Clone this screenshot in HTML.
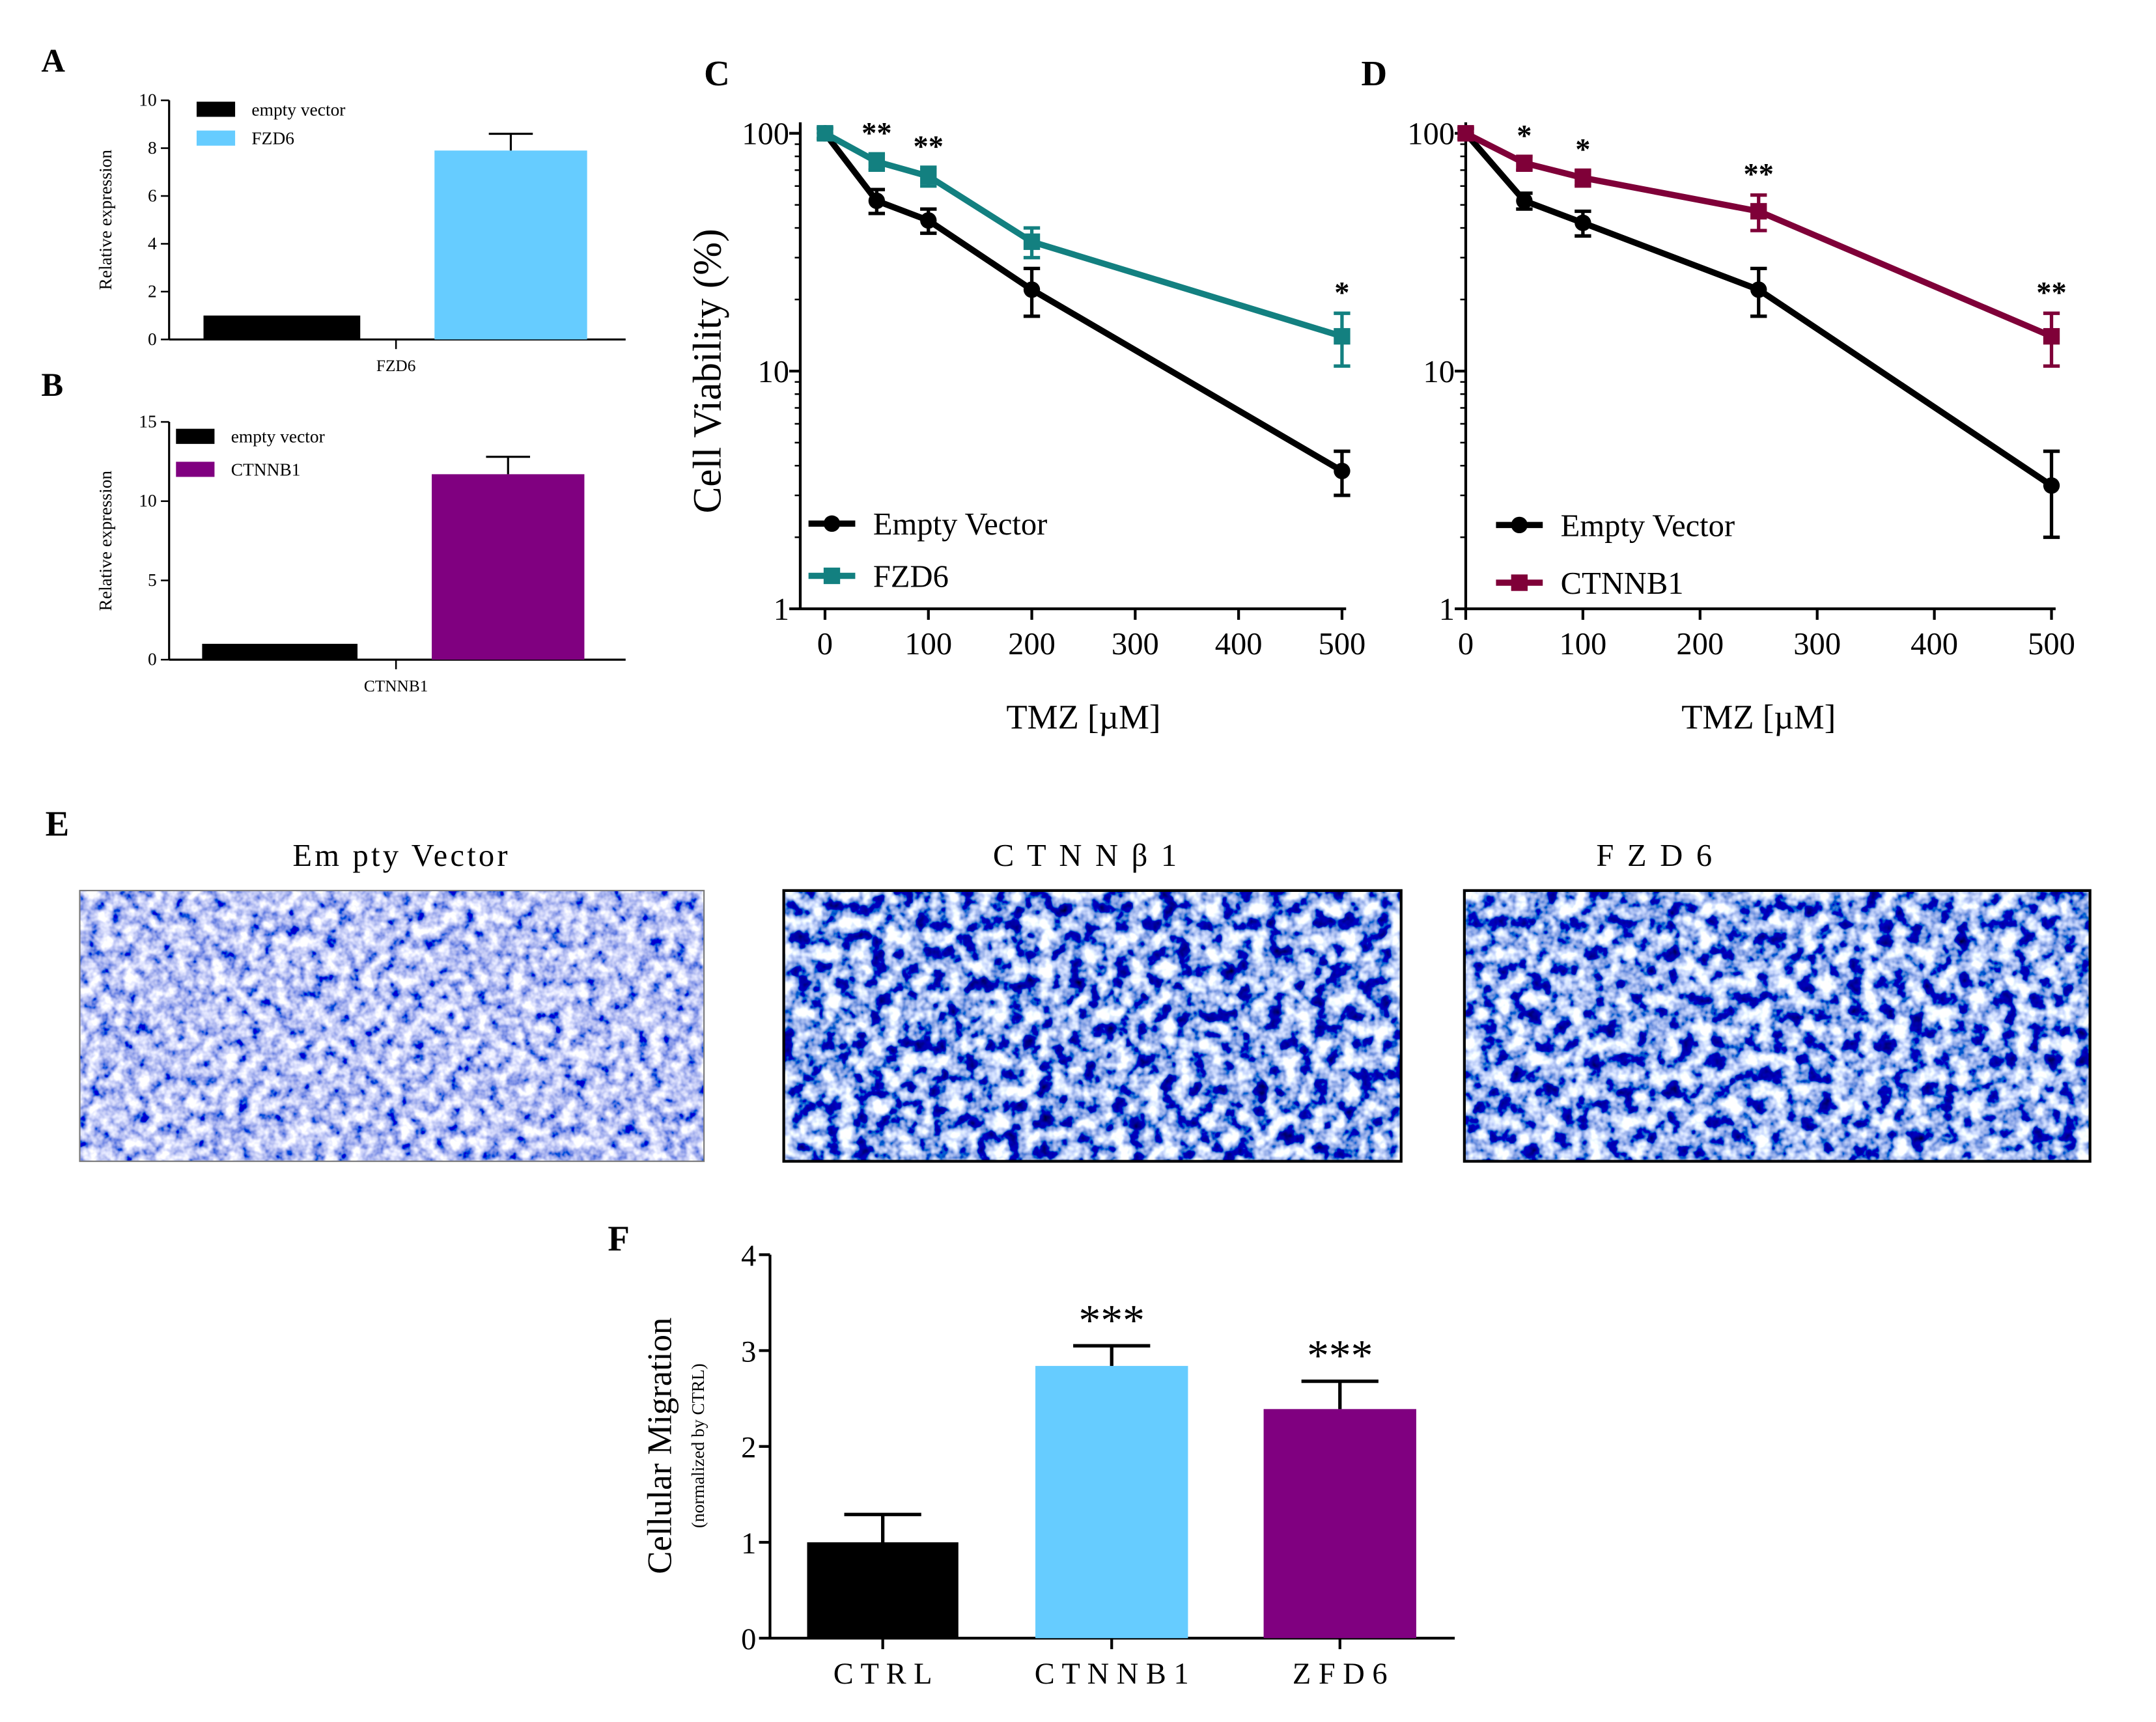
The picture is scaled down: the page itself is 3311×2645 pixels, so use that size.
<!DOCTYPE html>
<html><head><meta charset="utf-8"><style>
html,body{margin:0;padding:0;background:#fff;}
svg{display:block;font-family:"Liberation Serif",serif;}
</style></head><body>
<svg id="fig" width="3311" height="2645" viewBox="0 0 1568 1253" preserveAspectRatio="none" xmlns="http://www.w3.org/2000/svg">
<defs>
<filter id="cellsA" x="0" y="0" width="100%" height="100%">
<feTurbulence type="fractalNoise" baseFrequency="0.11" numOctaves="3" seed="3"/>
<feColorMatrix type="matrix" values="0 0 0 -2.2 1.6  0 0 0 -2.0 1.55  0 0 0 -0.8 1.3  0 0 0 0 1"/>
</filter>
<filter id="cellsB" x="0" y="0" width="100%" height="100%">
<feTurbulence type="fractalNoise" baseFrequency="0.09" numOctaves="3" seed="7"/>
<feColorMatrix type="matrix" values="0 0 0 -3.2 1.88  0 0 0 -3.0 1.9  0 0 0 -1.8 1.7  0 0 0 0 1"/>
</filter>
<filter id="cellsC" x="0" y="0" width="100%" height="100%">
<feTurbulence type="fractalNoise" baseFrequency="0.09" numOctaves="3" seed="11"/>
<feColorMatrix type="matrix" values="0 0 0 -3.2 1.9  0 0 0 -3.0 1.92  0 0 0 -1.8 1.72  0 0 0 0 1"/>
</filter>
</defs>
<g id="root"></g>
</svg>
<script>
// Panel A data
const aCats=["empty vector","FZD6"];
const aVals=[1,7.9];
const aErr=[0,0.7];
const aTicks=[0,2,4,6,8,10];
// Panel B data
const bCats=["empty vector","CTNNB1"];
const bVals=[1,11.7];
const bErr=[0,1.1];
const bTicks=[0,5,10,15];
// Panel C data
const cXTicks=[0,100,200,300,400,500];
const cYTicks=[1,10,100];
const cEvX=[0,50,100,200,500];
const cEvY=[100,52,43,22,3.8];
const cEvE=[5,6,5,5,0.8];
const cFzX=[0,50,100,200,500];
const cFzY=[100,76,66,35,14];
const cFzE=[5,6,6,5,3.5];
const cStars=["","**","**","","*"];
// Panel D data
const dEvX=[0,50,100,250,500];
const dEvY=[100,52,42,22,3.3];
const dEvE=[5,4,5,5,1.3];
const dCtX=[0,50,100,250,500];
const dCtY=[100,75,65,47,14];
const dCtE=[5,5,5,8,3.5];
const dStars=["","*","*","**","**"];
// Panel F data
const fCats=["C T R L","C T N N B 1","Z F D 6"];
const fVals=[1,2.84,2.39];
const fErr=[0.29,0.21,0.29];
const fTicks=[0,1,2,3,4];
const fStars=["","***","***"];

const NS="http://www.w3.org/2000/svg";
const root=document.getElementById('root');
function el(tag,attrs,parent,text){const e=document.createElementNS(NS,tag);for(const k in attrs)e.setAttribute(k,attrs[k]);if(text!==undefined)e.textContent=text;(parent||root).appendChild(e);return e;}
function line(x1,y1,x2,y2,w,c,p){return el('line',{x1,y1,x2,y2,stroke:c||'#000','stroke-width':w||1.5},p);}

function barPanel(opt){
  const g=el('g',{});
  
  
  const y=v=>opt.y0-(v-opt.min)/(opt.max-opt.min)*(opt.y0-opt.y1);
  line(opt.ax,opt.y1,opt.ax,opt.y0,1.5,'#000',g);
  line(opt.ax,opt.y0,opt.xe,opt.y0,1.5,'#000',g);
  opt.ticks.forEach(t=>{line(opt.ax-6,y(t),opt.ax,y(t),1.2,'#000',g);
    const tx=el('text',{x:opt.ax-9,y:y(t)+4,'font-size':opt.fs,'text-anchor':'end',fill:'#000'},g,t);
    });
  line(opt.midTick,opt.y0,opt.midTick,opt.y0+7,1.2,'#000',g);
  opt.vals.forEach((v,i)=>{
    const [x0,x1]=opt.barX[i];
    const r=el('rect',{x:x0,y:y(v),width:x1-x0,height:opt.y0-y(v),fill:opt.colors[i]},g);
    
    
    if(opt.err[i]>0){const cx=(x0+x1)/2;line(cx,y(v),cx,y(v+opt.err[i]),1.5,'#000',g);line(cx-16,y(v+opt.err[i]),cx+16,y(v+opt.err[i]),1.5,'#000',g);}
  });
  opt.cats.forEach((c,i)=>{
    const ly=opt.legY[i];
    el('rect',{x:opt.legX,y:ly-6,width:28,height:11,fill:opt.colors[i]},g);
    const t=el('text',{x:opt.legX+40,y:ly+4,'font-size':13},g,c);
    
  });
  const xl=el('text',{x:opt.midTick,y:opt.y0+23,'font-size':12,'text-anchor':'middle'},g,opt.xlabel);
  
  const yl=el('text',{x:0,y:0,'font-size':13,'text-anchor':'middle',transform:`translate(${opt.ax-42},${(opt.y0+opt.y1)/2}) rotate(-90)`},g,'Relative expression');
  
  const pl=el('text',{x:opt.lx,y:opt.ly,'font-size':24,'font-weight':'bold'},g,opt.letter);
  
}
barPanel({name:'panel-a',letter:'A',lx:30,ly:52,ax:123,xe:455,y0:247,y1:73,min:0,max:10,ticks:aTicks,fs:13,vals:aVals,err:aErr,cats:aCats,
  barX:[[148,262],[316,427]],colors:['#000','#66ccff'],legX:143,legY:[80,101],midTick:288,xlabel:'FZD6'});
barPanel({name:'panel-b',letter:'B',lx:30,ly:288,ax:123,xe:455,y0:480,y1:307,min:0,max:15,ticks:bTicks,fs:13,vals:bVals,err:bErr,cats:bCats,
  barX:[[147,260],[314,425]],colors:['#000','#800080'],legX:128,midTick:288,xlabel:'CTNNB1',legY:[318,342]});

function linePanel(opt){
  const g=el('g',{});
  
  
  const xs=v=>opt.x0+v/500*(opt.x5-opt.x0);
  const ys=v=>opt.yb-Math.log10(v)/2*(opt.yb-opt.yt);
  line(opt.ax,opt.yt-8,opt.ax,opt.yb,2,'#000',g);
  line(opt.ax,opt.yb,opt.x5+3,opt.yb,2,'#000',g);
  cYTicks.forEach(t=>{line(opt.ax-8,ys(t),opt.ax,ys(t),2,'#000',g);
    const tx=el('text',{x:opt.ax-8,y:ys(t)+8,'font-size':23,'text-anchor':'end',fill:'#000'},g,t);
    
    for(let m=2;m<10&&t<100;m++){line(opt.ax-4,ys(t*m),opt.ax,ys(t*m),1.2,'#000',g);}
  });
  cXTicks.forEach(t=>{line(xs(t),opt.yb,xs(t),opt.yb+8,2,'#000',g);
    const tx=el('text',{x:xs(t),y:opt.yb+33,'font-size':23,'text-anchor':'middle'},g,t);
    });
  const xt=el('text',{x:(opt.x0+opt.x5)/2,y:opt.yb+87,'font-size':25,'text-anchor':'middle'},g,'TMZ [\u00b5M]');
  
  opt.series.forEach(s=>{
    const pts=s.x.map((v,i)=>xs(v)+','+ys(s.y[i])).join(' ');
    const pl=el('polyline',{points:pts,fill:'none',stroke:s.color,'stroke-width':4.5,'stroke-linejoin':'round'},g);
    
    s.x.forEach((v,i)=>{
      const cx=xs(v),hi=ys(s.y[i]+s.e[i]),lo=ys(Math.max(s.y[i]-s.e[i],0.01));
      line(cx,hi,cx,lo,2.5,s.color,g);line(cx-6,hi,cx+6,hi,2.5,s.color,g);line(cx-6,lo,cx+6,lo,2.5,s.color,g);
      let m;
      if(s.square)m=el('rect',{x:cx-6,y:ys(s.y[i])-6,width:12,height:12,fill:s.color},g);
      else m=el('circle',{cx,cy:ys(s.y[i]),r:6,fill:s.color},g);
      
    });
  });
  const top=opt.series[1];
  opt.stars.forEach((st,i)=>{if(!st)return;
    const t=el('text',{x:xs(top.x[i]),y:ys(top.y[i]+top.e[i])-8,'font-size':22,'font-weight':'bold','text-anchor':'middle'},g,st);
    });
  opt.series.forEach((s,i)=>{
    const ly=opt.legY[i],lx=opt.legX;
    line(lx,ly,lx+34,ly,4.5,s.color,g);
    if(s.square)el('rect',{x:lx+11,y:ly-6,width:12,height:12,fill:s.color},g);else el('circle',{cx:lx+17,cy:ly,r:6,fill:s.color},g);
    const t=el('text',{x:lx+47,y:ly+8,'font-size':23},g,s.label);
    
  });
  const pl=el('text',{x:opt.lx,y:62,'font-size':26,'font-weight':'bold'},g,opt.letter);
  
}
linePanel({name:'panel-c',letter:'C',lx:512,ax:582,x0:600,x5:976,yb:443,yt:97,stars:cStars,legX:588,legY:[381,419],
  series:[{name:'empty-vector',label:'Empty Vector',x:cEvX,y:cEvY,e:cEvE,color:'#000'},{name:'fzd6',label:'FZD6',x:cFzX,y:cFzY,e:cFzE,color:'#138080',square:true}]});
linePanel({name:'panel-d',letter:'D',lx:990,ax:1066,x0:1066,x5:1492,yb:443,yt:97,stars:dStars,legX:1088,legY:[382,424],
  series:[{name:'empty-vector',label:'Empty Vector',x:dEvX,y:dEvY,e:dEvE,color:'#000'},{name:'ctnnb1',label:'CTNNB1',x:dCtX,y:dCtY,e:dCtE,color:'#7f0038',square:true}]});
const cyt=el('text',{x:0,y:0,'font-size':29,'text-anchor':'middle',transform:'translate(524,270) rotate(-90)'},root,'Cell Viability (%)');


const pe=el('text',{x:33,y:608,'font-size':26,'font-weight':'bold'},root,'E');

[[58,512,'Em pty Vector','cellsA','empty-vector-image',292],[570,1019,'C T N N \u03b2 1','cellsB','ctnnb1-image',790],[1065,1520,'F Z D 6','cellsC','fzd6-image',1204]].forEach(([x0,x1,lab,f,n,tx])=>{
  const r=el('rect',{x:x0,y:648,width:x1-x0,height:197,filter:`url(#${f})`,stroke:'none'});
  
  el('rect',{x:x0,y:648,width:x1-x0,height:197,fill:'none',stroke:f==='cellsA'?'#777':'#000','stroke-width':f==='cellsA'?1:2});
  const t=el('text',{x:tx,y:630,'font-size':23,'text-anchor':'middle','letter-spacing':'2'},root,lab);
  
});

(function(){
  const g=el('g',{});
  
  
  const ax=560,y0=1192,y1=913,xe=1058;
  const y=v=>y0-v/4*(y0-y1);
  line(ax,y1,ax,y0,2,'#000',g);line(ax,y0,xe,y0,2,'#000',g);
  fTicks.forEach(t=>{line(ax-8,y(t),ax,y(t),2,'#000',g);
    const tx=el('text',{x:ax-10,y:y(t)+8,'font-size':22,'text-anchor':'end'},g,t);
    });
  const bx=[[587,697],[753,864],[919,1030]],cols=['#000','#66ccff','#800080'];
  fVals.forEach((v,i)=>{
    const [a,b]=bx[i],cx=(a+b)/2;
    const r=el('rect',{x:a,y:y(v),width:b-a,height:y0-y(v),fill:cols[i]},g);
    
    line(cx,y(v),cx,y(v+fErr[i]),2.5,'#000',g);line(cx-28,y(v+fErr[i]),cx+28,y(v+fErr[i]),2.5,'#000',g);
    line(cx,y0,cx,y0+8,2,'#000',g);
    const t=el('text',{x:cx,y:y0+33,'font-size':22,'text-anchor':'middle'},g,fCats[i]);
    
    if(fStars[i]){const s=el('text',{x:cx,y:y(v+fErr[i])-8,'font-size':32,'text-anchor':'middle'},g,fStars[i]);
      }
  });
  const t1=el('text',{x:0,y:0,'font-size':25,'text-anchor':'middle',transform:'translate(488,1052) rotate(-90)'},g,'Cellular Migration');
  
  const t2=el('text',{x:0,y:0,'font-size':13,'text-anchor':'middle',transform:'translate(512,1052) rotate(-90)'},g,'(normalized by CTRL)');
  
  const pl=el('text',{x:442,y:910,'font-size':26,'font-weight':'bold'},g,'F');
  
})();
</script>
</body></html>
